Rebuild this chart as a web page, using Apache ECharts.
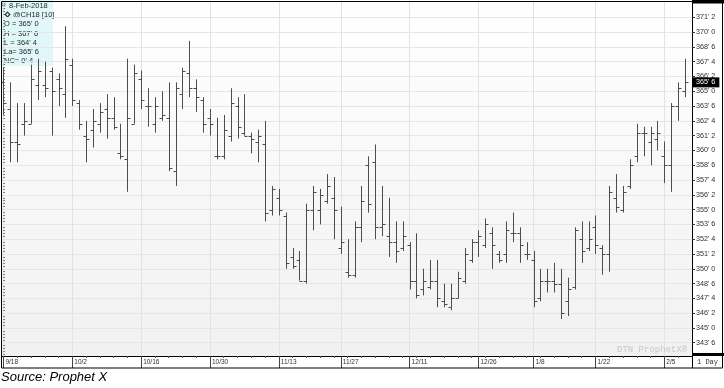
<!DOCTYPE html>
<html><head><meta charset="utf-8">
<script src="https://cdn.jsdelivr.net/npm/echarts@6/dist/echarts.min.js"></script>
<style>html,body{margin:0;padding:0;background:#fff;overflow:hidden}#c{width:724px;height:388px}</style>
</head><body><div id="c"></div>
<script>
// ---- data ----
const dates = ['9/18','9/19','9/20','9/21','9/22','9/25','9/26','9/27','9/28','9/29',
'10/2','10/3','10/4','10/5','10/6','10/9','10/10','10/11','10/12','10/13',
'10/16','10/17','10/18','10/19','10/20','10/23','10/24','10/25','10/26','10/27',
'10/30','10/31','11/1','11/2','11/3','11/6','11/7','11/8','11/9','11/10',
'11/13','11/14','11/15','11/16','11/17','11/20','11/21','11/22','11/24',
'11/27','11/28','11/29','11/30','12/1','12/4','12/5','12/6','12/7','12/8',
'12/11','12/12','12/13','12/14','12/15','12/18','12/19','12/20','12/21','12/22',
'12/26','12/27','12/28','12/29','1/2','1/3','1/4','1/5',
'1/8','1/9','1/10','1/11','1/12','1/16','1/17','1/18','1/19',
'1/22','1/23','1/24','1/25','1/26','1/29','1/30','1/31','2/1','2/2',
'2/5','2/6','2/7','2/8'];
const openP = [365.75,363.5,360.75,362.25,362.25,365.5,365.5,366.75,366.0,364.75,
367.25,364.0,361.25,361.75,362.25,363.5,362.75,359.75,359.25,362.25,
366.0,363.75,362.25,362.75,362.75,358.25,364.75,366.5,365.25,364.25,
362.75,359.5,359.5,361.25,363.75,361.5,361.25,360.75,360.5,355.0,
356.0,354.5,351.0,350.75,349.0,355.0,355.0,355.75,356.0,351.75,
349.75,349.5,353.5,358.75,359.0,353.5,352.75,352.25,351.75,352.0,
349.0,348.25,348.5,349.0,347.25,346.75,347.5,349.0,350.75,352.25,
352.0,353.0,351.25,351.25,353.0,353.0,351.25,350.75,347.5,349.0,
349.0,348.75,347.25,348.5,352.5,351.75,353.5,351.75,351.25,356.0,
355.0,357.0,359.5,361.5,360.75,361.0,359.5,358.75,363.75,365.0];
const highP = [367.0,365.75,364.0,364.0,367.25,367.75,367.5,367.0,366.5,370.5,
367.75,364.25,362.5,363.5,364.0,364.75,364.5,362.25,367.75,367.25,
366.75,365.25,364.5,365.0,365.75,365.75,367.0,369.25,366.0,364.5,
363.5,362.75,363.0,365.25,364.5,364.75,361.5,361.75,362.5,357.0,
356.75,354.75,351.75,351.5,355.5,357.0,356.75,358.0,357.75,355.25,
352.5,354.0,357.0,359.5,360.5,357.0,356.0,354.0,354.0,352.25,
353.0,350.0,350.75,350.75,348.75,348.75,349.75,351.75,352.5,353.25,
354.25,353.5,351.5,354.0,354.75,353.5,352.25,351.5,350.0,350.0,
350.5,350.0,349.25,353.5,354.0,354.0,354.5,352.0,357.0,358.0,
357.0,359.25,362.25,362.0,362.0,362.5,360.75,364.0,365.75,367.75];
const lowP = [363.0,359.0,359.0,361.25,362.25,364.25,364.5,361.25,363.75,362.75,
363.75,361.75,359.0,360.25,361.5,361.0,361.75,359.25,356.5,362.25,
363.5,362.0,361.5,362.5,358.25,357.0,363.5,364.5,363.25,361.5,
361.25,359.25,359.25,360.75,361.0,361.25,359.75,359.0,354.0,354.5,
354.5,350.0,350.0,349.0,348.75,353.25,353.75,355.5,352.5,351.25,
349.25,349.25,352.25,354.75,352.5,352.75,351.0,350.5,351.5,348.25,
347.5,347.75,348.25,346.75,346.75,346.5,347.5,348.75,350.5,351.0,
351.75,350.0,350.5,350.5,352.25,350.5,350.75,346.75,347.25,348.0,
348.0,345.75,346.0,348.25,350.5,351.5,351.25,349.5,349.75,354.75,
354.75,356.75,359.0,359.5,358.75,360.0,357.25,356.5,362.5,364.5];
const closeP = [364.0,360.75,360.5,362.5,366.0,366.75,365.25,365.0,365.25,367.75,
364.25,362.25,361.0,362.5,363.25,362.75,362.0,359.5,362.75,366.5,
364.25,363.75,363.75,363.0,358.5,365.25,366.75,365.25,364.5,362.25,
362.25,359.5,361.75,364.0,362.0,361.25,361.0,361.25,354.75,356.75,
355.0,350.5,350.25,349.0,355.0,356.5,356.25,357.0,355.0,352.25,
349.5,353.5,355.75,355.5,353.5,353.75,352.25,351.5,352.75,349.0,
347.75,349.0,349.0,347.5,347.0,347.5,349.25,351.25,352.25,352.75,
353.75,352.0,350.75,353.25,353.0,352.0,351.25,347.25,349.0,349.0,
348.75,346.25,348.25,353.25,351.5,352.5,352.0,351.25,356.5,355.25,
356.5,358.75,361.5,361.5,361.5,361.5,358.75,363.75,365.25,365.75];
const xTickLabels = ['9/18','10/2','10/16','10/30','11/13','11/27','12/11','12/26','1/8','1/22','2/5'];
const yTickValues = [343.75,345,346.25,347.5,348.75,350,351.25,352.5,353.75,355,356.25,357.5,
358.75,360,361.25,362.5,363.75,365,366.25,367.5,368.75,370,371.25];
const legendDate = '8-Feb-2018';
const symbolName = '@CH18 [10]';
const sourceText = 'Source: Prophet X';
const watermark = 'DTN ProphetX\u00ae';
const periodText = '1 Day';

// ---- helpers ----
function f8(v){ const neg = v < 0; v = Math.abs(v); let w = Math.floor(v + 1e-9); let e = Math.round((v - w) * 8); if (e === 8){w+=1;e=0;} return (neg?'-':'') + w + "' " + e; }
const n = dates.length;
const ohlc = dates.map((d, i) => [i, openP[i], highP[i], lowP[i], closeP[i]]);
const xTickIdx = xTickLabels.map(l => dates.indexOf(l));
const xMinorIdx = [];
for (let i = 0; i < n; i += 2) if (xTickIdx.indexOf(i) < 0) xMinorIdx.push(i);
const yMinor = [];
for (let k = 0; k < yTickValues.length - 1; k++) { for (let j = 1; j < 5; j++) yMinor.push(yTickValues[k] + j * 0.25); }
for (let j = 1; j < 5; j++) { yMinor.push(yTickValues[0] - j*0.25); yMinor.push(yTickValues[yTickValues.length-1] + j*0.25); }
const last = n - 1;
const legendLines = [
  legendDate,
  symbolName,
  'O = ' + f8(openP[last]),
  'H = ' + f8(highP[last]),
  'L = ' + f8(lowP[last]),
  'La= ' + f8(closeP[last]),
  'NC= ' + f8(closeP[last] - closeP[last-1])
];

const X_MIN = -0.21, X_MAX = 100.02, Y_MIN = 342.63, Y_MAX = 372.54;
const FONT = '"Liberation Sans", Arial, sans-serif';
const chart = echarts.init(document.getElementById('c'), null, {renderer: 'canvas'});

const legendChildren = [
  {type:'rect', shape:{x:0, y:0, width:53, height:66}, style:{fill:'rgba(222,247,251,0.92)'}}
];
legendLines.forEach((t, k) => {
  legendChildren.push({type:'text', x: k===0 ? 9 : (k===1 ? 13 : 4), y: 6 + k*9.2,
    style:{text:t, fill:'#2a2a2a', font:'7.5px ' + FONT, verticalAlign:'middle'}});
});
legendChildren.push({type:'circle', shape:{cx:3.5, cy:4.5, r:1.6}, style:{fill:'none', stroke:'#555', lineWidth:0.8}});
legendChildren.push({type:'polygon', shape:{points:[[7.5,12.2],[9.8,14.5],[7.5,16.8],[5.2,14.5]]}, style:{fill:'none', stroke:'#333', lineWidth:1.2}});

chart.setOption({
  animation: false,
  backgroundColor: '#fff',
  grid: {left: 2, top: 2, right: 32, bottom: 32, show: true, borderWidth: 0,
    backgroundColor: new echarts.graphic.LinearGradient(0,0,0,1,[{offset:0,color:'#ffffff'},{offset:1,color:'#f1f1f1'}])},
  xAxis: [{
    type: 'value', min: X_MIN, max: X_MAX, position: 'bottom',
    axisLine: {show: true, onZero: false, lineStyle: {color: '#000', width: 1}},
    axisTick: {show: true, customValues: xTickIdx, length: 12, lineStyle: {color: '#444'}},
    axisLabel: {show: true, customValues: xTickIdx, formatter: v => dates[Math.round(v)] || '',
      align: 'left', margin: 3, padding: [0,0,0,2], fontSize: 6.5, fontFamily: 'Liberation Sans', color: '#333'},
    splitLine: {show: true, lineStyle: {color: '#e2e2e2', width: 1}}
  }, {
    type: 'value', min: X_MIN, max: X_MAX, position: 'bottom',
    axisLine: {show: false}, axisLabel: {show: false}, splitLine: {show: false},
    axisTick: {show: true, customValues: xMinorIdx, length: 2, lineStyle: {color: '#555'}}
  }],
  yAxis: [{
    type: 'value', min: Y_MIN, max: Y_MAX, position: 'right',
    axisLine: {show: true, onZero: false, lineStyle: {color: '#000', width: 1}},
    axisTick: {show: true, customValues: yTickValues, length: 3, lineStyle: {color: '#333'}},
    axisLabel: {show: true, customValues: yTickValues, formatter: v => f8(v), margin: 4,
      fontSize: 7.2, fontFamily: 'Liberation Sans', color: '#2e2e2e'},
    splitLine: {show: true, lineStyle: {color: '#e6e6e6', width: 1}}
  }, {
    type: 'value', min: Y_MIN, max: Y_MAX, position: 'right',
    axisLine: {show: false}, axisLabel: {show: false}, splitLine: {show: false},
    axisTick: {show: true, customValues: yMinor, length: 1.5, lineStyle: {color: '#666'}}
  }, {
    type: 'value', min: Y_MIN, max: Y_MAX, position: 'right', z: 20,
    axisLine: {show: false}, axisTick: {show: false}, splitLine: {show: false},
    axisLabel: {show: true, customValues: [closeP[last]], formatter: v => f8(v), margin: 1,
      fontSize: 7.2, fontFamily: 'Liberation Sans', color: '#fff', backgroundColor: '#000', padding: [1,4,1,3], lineHeight: 8}
  }],
  series: [{
    type: 'custom', xAxisIndex: 0, yAxisIndex: 0, clip: true, z: 5,
    data: ohlc,
    encode: {x: 0, y: [1,2,3,4]},
    renderItem: function(params, api) {
      const i = api.value(0);
      const o = api.coord([i, api.value(1)]);
      const h = api.coord([i, api.value(2)]);
      const l = api.coord([i, api.value(3)]);
      const c = api.coord([i, api.value(4)]);
      const px = Math.round(h[0]) + 0.5;
      const st = {stroke: '#4d4d4d', lineWidth: 1};
      const oy = Math.round(o[1]) + 0.5, cy = Math.round(c[1]) + 0.5;
      return {type: 'group', children: [
        {type: 'line', shape: {x1: px, y1: h[1], x2: px, y2: l[1]}, style: st},
        {type: 'line', shape: {x1: px - 3, y1: oy, x2: px, y2: oy}, style: st},
        {type: 'line', shape: {x1: px, y1: cy, x2: px + 3, y2: cy}, style: st}
      ]};
    }
  }],
  graphic: [
    {type: 'rect', z: 50, shape: {x: 1.5, y: 1.5, width: 721, height: 366.5}, style: {fill: 'none', stroke: '#000', lineWidth: 1}},
    {type: 'rect', z: 50, shape: {x: 692, y: 0, width: 32, height: 3.5}, style: {fill: '#000'}},
    {type: 'rect', z: 50, shape: {x: 692, y: 353, width: 32, height: 3}, style: {fill: '#000'}},
    {type: 'line', z: 50, shape: {x1: 692.5, y1: 356, x2: 692.5, y2: 368}, style: {stroke: '#000', lineWidth: 1}},
    {type: 'text', z: 50, x: 697, y: 362.5, style: {text: periodText, fill: '#333', font: '7px "Liberation Mono", monospace', verticalAlign: 'middle'}},
    {type: 'text', z: 50, x: 617, y: 350, style: {text: watermark, fill: '#c8c8c8', font: '9px "Liberation Mono", monospace', verticalAlign: 'middle'}},
    {type: 'text', z: 50, x: 1, y: 377.5, style: {text: sourceText, fill: '#000', font: 'italic 13px ' + FONT, verticalAlign: 'middle'}},
    {type: 'group', z: 60, x: 0, y: 0, children: legendChildren}
  ]
});
</script>
</body></html>
